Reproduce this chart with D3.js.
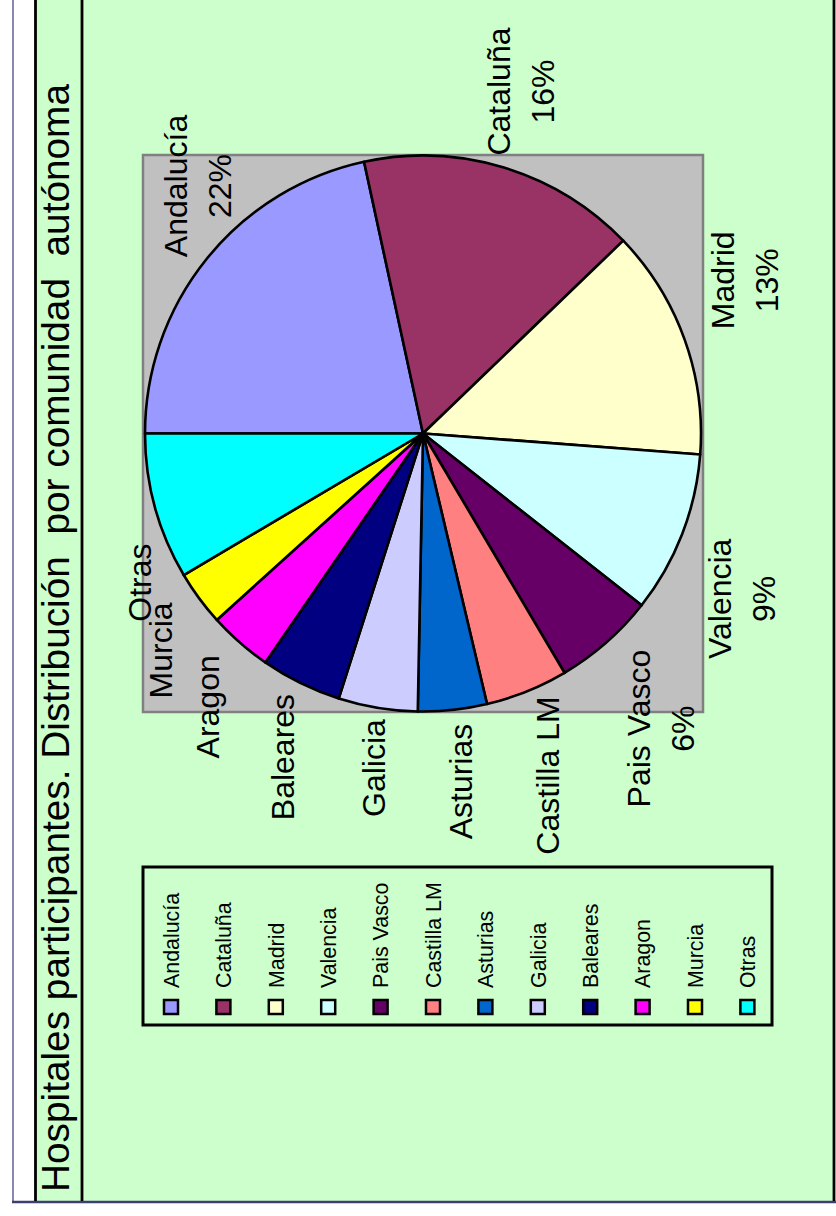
<!DOCTYPE html>
<html>
<head>
<meta charset="utf-8">
<script src="https://cdn.jsdelivr.net/npm/d3@7"></script>
<style>
  html, body { margin: 0; padding: 0; background: #ffffff; }
  svg { display: block; }
</style>
</head>
<body>
<script>
// ---- data ----
const categories = ["Andalucía", "Cataluña", "Madrid", "Valencia", "Pais Vasco", "Castilla LM",
                    "Asturias", "Galicia", "Baleares", "Aragon", "Murcia", "Otras"];
const shares = [21.6, 16.2, 13.4, 9.4, 5.9, 4.8, 4.0, 4.6, 4.7, 3.7, 3.2, 8.5];
const sliceColors = ["#9999FF", "#993366", "#FFFFCC", "#CCFFFF", "#660066", "#FF8080",
                     "#0066CC", "#CCCCFF", "#000080", "#FF00FF", "#FFFF00", "#00FFFF"];
const withPercent = ["Andalucía", "Cataluña", "Madrid", "Valencia", "Pais Vasco"];
const title = "Hospitales participantes. Distribución  por comunidad  autónoma";

// label placement: angular shift from the slice mid-angle (degrees)
// and distance of the label block centre from the pie centre (px)
const labelShift = [8.8, -1.0, -5.7, 6.2, 2.4, 1.9, 0, -1.0, -2.7, -3.0, -3.2, -12.4];
const labelDist  = [334.8, 355.6, 356, 358.7, 378.7, 364.1, 350, 338.1, 352.5, 347.9, 340.6, 320.7];

// ---- page ----
const PW = 836, PH = 1216;       // page size
const W = 1216, H = 836;         // sheet size (drawn sideways)
const FONT = "'Liberation Sans', Arial, Helvetica, sans-serif";

const svg = d3.select("body").append("svg")
  .attr("width", PW).attr("height", PH);

svg.append("rect").attr("width", PW).attr("height", PH).attr("fill", "#ffffff");

// the whole sheet is laid out landscape and turned a quarter turn
const g = svg.append("g").attr("transform", `translate(0,${PH}) rotate(-90)`);

// chart background
g.append("rect").attr("x", 15).attr("y", 36).attr("width", W - 15).attr("height", 798)
  .attr("fill", "#CCFFCC");

// sheet frame
g.append("line").attr("x1", 14).attr("x2", W).attr("y1", 13).attr("y2", 13)
  .attr("stroke", "#7a7aa8").attr("stroke-width", 1.8);
g.append("line").attr("x1", 14).attr("x2", 14).attr("y1", 12).attr("y2", H)
  .attr("stroke", "#3e3e70").attr("stroke-width", 2.5);

// title band rules and right edge
[35.5, 82, 834].forEach(y => {
  g.append("line").attr("x1", 15).attr("x2", W).attr("y1", y).attr("y2", y)
    .attr("stroke", "#000").attr("stroke-width", 2.8);
});

// title
g.append("text")
  .attr("x", 24).attr("y", 69)
  .attr("font-family", FONT).attr("font-size", 38.7)
  .attr("fill", "#000")
  .attr("textLength", 1108).attr("lengthAdjust", "spacingAndGlyphs")
  .style("white-space", "pre")
  .text(title);

// ---- plot area ----
const plot = { x: 504, y: 143, w: 557, h: 560 };
g.append("rect")
  .attr("x", plot.x).attr("y", plot.y).attr("width", plot.w).attr("height", plot.h)
  .attr("fill", "#C0C0C0").attr("stroke", "#808080").attr("stroke-width", 2.5);

const cx = plot.x + plot.w / 2, cy = plot.y + plot.h / 2;
const R = 278;

const pie = d3.pie().sort(null).value(d => d)(shares);
const arc = d3.arc().innerRadius(0).outerRadius(R);
const color = d3.scaleOrdinal().domain(categories).range(sliceColors);
const total = d3.sum(shares);

const pieG = g.append("g").attr("transform", `translate(${cx},${cy})`);
pieG.selectAll("path").data(pie).join("path")
  .attr("d", arc)
  .attr("fill", (d, i) => color(categories[i]))
  .attr("stroke", "#000").attr("stroke-width", 2.6).attr("stroke-linejoin", "round");

// ---- slice labels ----
const LBL = 32, capH = LBL * 0.716, lineGap = 44;
pie.forEach((d, i) => {
  const a = (d.startAngle + d.endAngle) / 2 + labelShift[i] * Math.PI / 180;
  const lx = cx + labelDist[i] * Math.sin(a);
  const ly = cy - labelDist[i] * Math.cos(a);
  const name = categories[i];
  const lines = withPercent.includes(name)
    ? [name, Math.round(d.value / total * 100) + "%"]
    : [name];
  const blockH = capH + (lines.length - 1) * lineGap;
  const firstBase = ly - blockH / 2 + capH;
  lines.forEach((t, k) => {
    g.append("text")
      .attr("x", lx).attr("y", firstBase + k * lineGap)
      .attr("text-anchor", "middle")
      .attr("font-family", FONT).attr("font-size", LBL)
      .attr("fill", "#000")
      .text(t);
  });
});

// ---- legend ----
const legend = { x: 191, y: 143, w: 158, h: 629 };
g.append("rect")
  .attr("x", legend.x).attr("y", legend.y).attr("width", legend.w).attr("height", legend.h)
  .attr("fill", "none").attr("stroke", "#000").attr("stroke-width", 3);

const rowY = d3.scalePoint().domain(categories).range([171, 171 + 52.4 * 11]);
const rows = g.selectAll("g.entry").data(categories).join("g")
  .attr("class", "entry")
  .attr("transform", d => `translate(0,${rowY(d)})`);
rows.append("rect")
  .attr("x", 202).attr("y", -7).attr("width", 14).attr("height", 14)
  .attr("fill", d => color(d)).attr("stroke", "#000").attr("stroke-width", 2.5);
rows.append("text")
  .attr("x", 228).attr("y", 7.8)
  .attr("font-family", FONT).attr("font-size", 21.4)
  .attr("fill", "#000")
  .text(d => d);
</script>
</body>
</html>
